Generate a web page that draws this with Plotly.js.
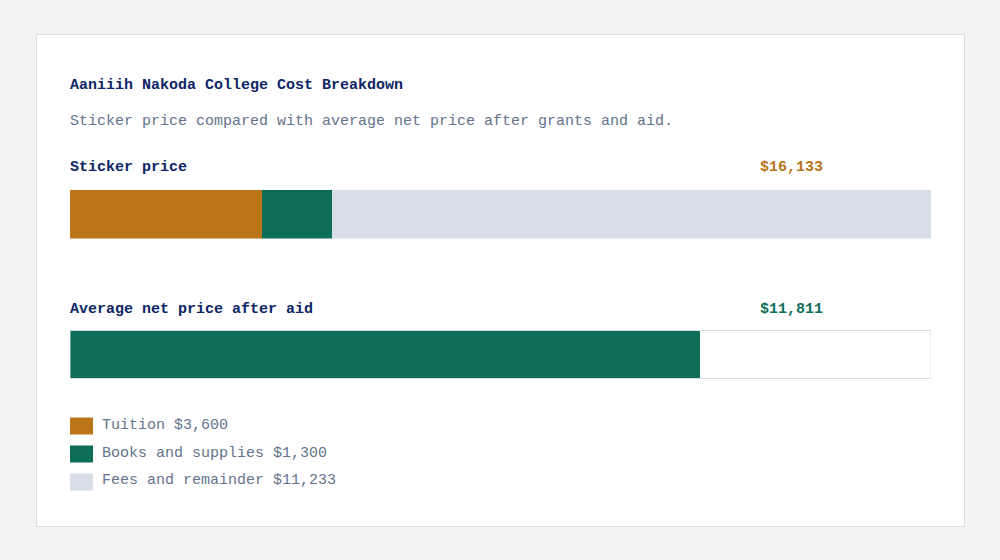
<!DOCTYPE html>
<html>
<head>
<meta charset="utf-8">
<script src="https://cdn.plot.ly/plotly-3.0.1.min.js"></script>
<style>
  html, body { margin: 0; padding: 0; background: #f3f3f1; }
  #chart { width: 1000px; height: 560px; }
</style>
</head>
<body>
<div id="chart"></div>
<script>
// sticker price parts
var parts = ['Tuition', 'Books and supplies', 'Fees and remainder'];
var partValues = [3600, 1300, 11233];
var partColors = ['#b97518', '#0f6e58', '#d7dee8'];

var stickerTotal = 16133;
var netPrice = 11811;

var rowLabels = ['Sticker price', 'Average net price after aid'];

var navy = '#0d2566';
var grey = '#64738b';
var mono = '"Liberation Mono", "DejaVu Sans Mono", monospace';

function money(v) {
  return '$' + v.toLocaleString('en-US');
}

var traces = [];
for (var i = 0; i < parts.length; i++) {
  traces.push({
    type: 'bar',
    orientation: 'h',
    x: [partValues[i]],
    y: ['sticker'],
    name: parts[i],
    marker: {color: partColors[i], line: {width: 0}},
    width: 1,
    xaxis: 'x',
    yaxis: 'y',
    hoverinfo: 'skip'
  });
}
traces.push({
  type: 'bar',
  orientation: 'h',
  x: [netPrice],
  y: ['net'],
  name: 'Net price',
  marker: {color: '#0f6e58', line: {width: 0}},
  width: 1,
  xaxis: 'x2',
  yaxis: 'y2',
  hoverinfo: 'skip'
});

function px(v) { return v / 1000; }
function py(v) { return 1 - v / 560; }

var hidden = {showgrid: false, zeroline: false, showline: false, showticklabels: false, ticks: '', fixedrange: true};

var annotations = [
  {text: 'Aaniiih Nakoda College Cost Breakdown', x: px(68), y: py(85), font: {size: 15, color: navy, weight: 'bold'}},
  {text: 'Sticker price compared with average net price after grants and aid.', x: px(68), y: py(121), font: {size: 15, color: grey}},
  {text: rowLabels[0], x: px(68), y: py(167), font: {size: 15, color: navy, weight: 'bold'}},
  {text: money(stickerTotal), x: px(825), y: py(167), xanchor: 'right', font: {size: 15, color: partColors[0], weight: 'bold'}},
  {text: rowLabels[1], x: px(68), y: py(309), font: {size: 15, color: navy, weight: 'bold'}},
  {text: money(netPrice), x: px(825), y: py(309), xanchor: 'right', font: {size: 15, color: '#0f6e58', weight: 'bold'}}
];

var shapes = [
  // card
  {type: 'rect', xref: 'paper', yref: 'paper', x0: px(36.5), x1: px(964.5), y0: py(526.5), y1: py(34.5),
   fillcolor: '#ffffff', line: {color: '#d9dfe9', width: 1}, layer: 'below'},
  // outline around net-price bar, full sticker range
  {type: 'rect', xref: 'x2', yref: 'y2 domain', x0: 0, x1: stickerTotal, y0: 0, y1: 1,
   fillcolor: 'rgba(0,0,0,0)', line: {color: '#d7dde7', width: 1}, layer: 'above'}
];

// legend built from the parts arrays
for (var j = 0; j < parts.length; j++) {
  var cy = 426 + j * 28;
  shapes.push({type: 'rect', xref: 'paper', yref: 'paper', x0: px(70), x1: px(93), y0: py(cy + 8.5), y1: py(cy - 8.5),
    fillcolor: partColors[j], line: {width: 0}});
  annotations.push({text: parts[j] + ' ' + money(partValues[j]), x: px(100), y: py(cy - 1),
    font: {size: 15, color: grey}});
}

annotations.forEach(function (a) {
  a.xref = 'paper'; a.yref = 'paper';
  if (!a.xanchor) a.xanchor = 'left';
  a.yanchor = 'middle';
  a.showarrow = false;
  a.font.family = mono;
});

var layout = {
  width: 1000,
  height: 560,
  margin: {l: 0, r: 0, t: 0, b: 0},
  paper_bgcolor: '#f3f3f1',
  plot_bgcolor: 'rgba(0,0,0,0)',
  barmode: 'stack',
  bargap: 0,
  showlegend: false,
  font: {family: mono},
  xaxis: Object.assign({domain: [px(70), px(931)], range: [0, stickerTotal], anchor: 'y'}, hidden),
  yaxis: Object.assign({domain: [py(238.5), py(190)], range: [-0.5, 0.5], type: 'category', anchor: 'x'}, hidden),
  xaxis2: Object.assign({domain: [px(70), px(931)], range: [0, stickerTotal], anchor: 'y2'}, hidden),
  yaxis2: Object.assign({domain: [py(378.5), py(330.5)], range: [-0.5, 0.5], type: 'category', anchor: 'x2'}, hidden),
  annotations: annotations,
  shapes: shapes
};

Plotly.newPlot('chart', traces, layout, {displayModeBar: false, staticPlot: true});
</script>
</body>
</html>
